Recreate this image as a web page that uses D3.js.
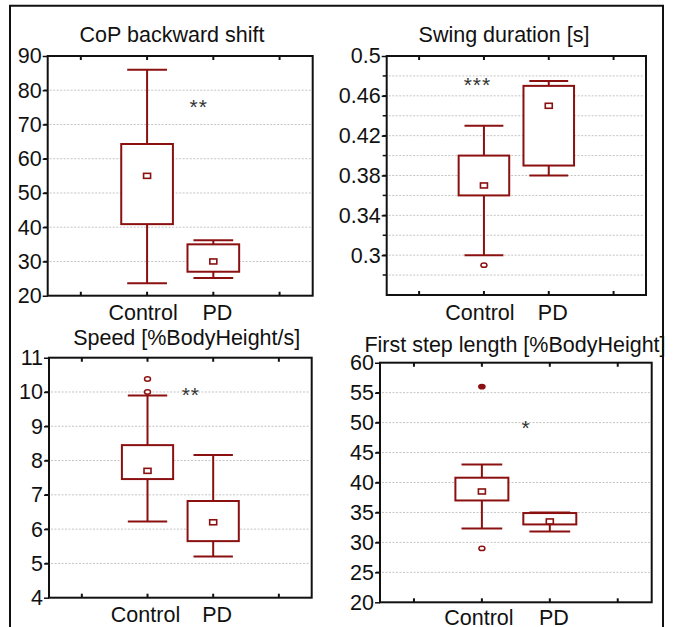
<!DOCTYPE html>
<html>
<head>
<meta charset="utf-8">
<script src="https://cdn.jsdelivr.net/npm/d3@7"></script>
<style>
    body { margin: 0; background: #fff; }
    svg { display: block; }
    text { font-family: "Liberation Sans", Arial, sans-serif; }
</style>
</head>
<body>
<div id="chart"></div>
<script>
// categories on the x axis (positions 1 and 2)
var categories = ['Control', 'PD'];

// box stats per group: [whisker low, q1, median, q3, whisker high]
var copControl = [23.6, 40.9, 55, 64.3, 86];
var copPD = [25.2, 27, 30, 35, 36.2];
var swingControl = [0.30, 0.36, 0.37, 0.40, 0.43];
var swingPD = [0.38, 0.39, 0.45, 0.47, 0.475];
var speedControl = [6.22, 7.46, 7.7, 8.45, 9.9];
var speedPD = [5.2, 5.65, 6.2, 6.82, 8.16];
var stepControl = [32.3, 37, 38.5, 40.8, 43];
var stepPD = [31.8, 33, 33.5, 34.9, 35];

// outliers [category index, value]
var swingOutliers = [[0, 0.29]];
var speedOutliers = [[0, 10.0], [0, 10.38]];
var stepOutliers = [[0, 29]];
var stepExtremes = [[0, 56]];

// significance marks [x position, value, label]
var copStars = [1.78, 76.6, '**'];
var swingStars = [0.9, 0.476, '***'];
var speedStars = [1.66, 10.05, '**'];
var stepStars = [1.65, 50, '*'];

// tick labels and grid lines
var copTicks = [20, 30, 40, 50, 60, 70, 80, 90];
var copGrid = [30, 40, 50, 60, 70, 80];
var swingTicks = [0.3, 0.34, 0.38, 0.42, 0.46, 0.5];
var swingGrid = [0.28, 0.3, 0.32, 0.34, 0.36, 0.38, 0.4, 0.42, 0.44, 0.46, 0.48];
var speedTicks = [4, 5, 6, 7, 8, 9, 10, 11];
var speedGrid = [5, 6, 7, 8, 9, 10];
var stepTicks = [20, 25, 30, 35, 40, 45, 50, 55, 60];
var stepGrid = [25, 30, 35, 40, 45, 50, 55];

var titles = ['CoP backward shift', 'Swing duration [s]', 'Speed [%BodyHeight/s]', 'First step length [%BodyHeight]'];

var DARK_RED = '#8b1010';
var FONT = '21.5px';
var width = 673, height = 627;

var svg = d3.select('#chart').append('svg')
    .attr('width', width)
    .attr('height', height);
var defs = svg.append('defs');

function drawPanel(p) {
    var clipId = 'clip' + p.id;
    defs.append('clipPath').attr('id', clipId)
        .append('rect')
        .attr('x', 0).attr('y', p.clipTop)
        .attr('width', width).attr('height', p.clipBottom - p.clipTop);

    var g = svg.append('g').attr('clip-path', 'url(#' + clipId + ')');

    var x = d3.scaleLinear().domain([-0.5, 3.5]).range([p.left, p.right]);
    var y = d3.scaleLinear().domain(p.domain).range([p.bottom, p.top]);

    // grid lines
    g.append('g').selectAll('line')
        .data(p.grid)
        .enter()
        .append('line')
        .attr('x1', p.left + 2)
        .attr('x2', p.right - 2)
        .attr('y1', function(d) { return y(d); })
        .attr('y2', function(d) { return y(d); })
        .attr('stroke', '#c4c4c4')
        .attr('stroke-width', 1)
        .attr('stroke-dasharray', '2,1.5');

    // y axis labels + outward ticks
    var yAxis = d3.axisLeft(y)
        .tickValues(p.ticks)
        .tickSize(5)
        .tickPadding(1)
        .tickFormat(p.format);
    var ya = g.append('g')
        .attr('transform', 'translate(' + p.left + ',0)')
        .call(yAxis);
    ya.select('.domain').remove();
    ya.selectAll('line').attr('stroke', '#111').attr('stroke-width', 1.5);
    ya.selectAll('text')
        .attr('font-size', FONT)
        .attr('fill', '#111')
        .style('font-family', '"Liberation Sans", Arial, sans-serif');

    // minor ticks at grid values
    g.append('g').selectAll('line')
        .data(p.grid)
        .enter()
        .append('line')
        .attr('x1', p.left - 4)
        .attr('x2', p.left)
        .attr('y1', function(d) { return y(d); })
        .attr('y2', function(d) { return y(d); })
        .attr('stroke', '#111')
        .attr('stroke-width', 1.5);

    // x ticks, inward on top and bottom
    var xTicks = [0, 1, 2, 3];
    g.append('g').selectAll('line')
        .data(xTicks)
        .enter()
        .append('line')
        .attr('x1', function(d) { return x(d); })
        .attr('x2', function(d) { return x(d); })
        .attr('y1', p.bottom)
        .attr('y2', p.bottom - 4)
        .attr('stroke', '#111')
        .attr('stroke-width', 2);
    g.append('g').selectAll('line')
        .data(xTicks)
        .enter()
        .append('line')
        .attr('x1', function(d) { return x(d); })
        .attr('x2', function(d) { return x(d); })
        .attr('y1', p.top)
        .attr('y2', p.top + 4)
        .attr('stroke', '#111')
        .attr('stroke-width', 2);

    // category labels
    g.append('g').selectAll('text')
        .data(categories)
        .enter()
        .append('text')
        .attr('x', function(d, i) { return x(i + 1) + p.labelShift[i]; })
        .attr('y', p.labelY)
        .attr('text-anchor', 'middle')
        .attr('font-size', FONT)
        .attr('fill', '#111')
        .text(function(d) { return d; });

    // title
    g.append('text')
        .attr('x', p.titleX)
        .attr('y', p.titleY)
        .attr('text-anchor', 'middle')
        .attr('font-size', FONT)
        .attr('fill', '#111')
        .text(p.title);

    // boxes
    var boxHalf = 0.39, capHalf = 0.3;
    var boxes = g.append('g')
        .selectAll('g')
        .data(p.boxes)
        .enter()
        .append('g')
        .attr('stroke', DARK_RED)
        .attr('stroke-width', 2)
        .attr('fill', 'none');

    boxes.append('line')
        .attr('x1', function(d, i) { return x(i + 1); })
        .attr('x2', function(d, i) { return x(i + 1); })
        .attr('y1', function(d) { return y(d[4]); })
        .attr('y2', function(d) { return y(d[3]); });
    boxes.append('line')
        .attr('x1', function(d, i) { return x(i + 1); })
        .attr('x2', function(d, i) { return x(i + 1); })
        .attr('y1', function(d) { return y(d[1]); })
        .attr('y2', function(d) { return y(d[0]); });
    boxes.append('line')
        .attr('x1', function(d, i) { return x(i + 1 - capHalf); })
        .attr('x2', function(d, i) { return x(i + 1 + capHalf); })
        .attr('y1', function(d) { return y(d[4]); })
        .attr('y2', function(d) { return y(d[4]); });
    boxes.append('line')
        .attr('x1', function(d, i) { return x(i + 1 - capHalf); })
        .attr('x2', function(d, i) { return x(i + 1 + capHalf); })
        .attr('y1', function(d) { return y(d[0]); })
        .attr('y2', function(d) { return y(d[0]); });
    boxes.append('rect')
        .attr('x', function(d, i) { return x(i + 1 - boxHalf); })
        .attr('width', function(d, i) { return x(i + 1 + boxHalf) - x(i + 1 - boxHalf); })
        .attr('y', function(d) { return y(d[3]); })
        .attr('height', function(d) { return y(d[1]) - y(d[3]); })
        .attr('fill', '#fff');
    boxes.append('rect')
        .attr('x', function(d, i) { return x(i + 1) - 3.5; })
        .attr('y', function(d) { return y(d[2]) - 2.5; })
        .attr('width', 7)
        .attr('height', 5)
        .attr('fill', '#fff')
        .attr('stroke-width', 1.6);

    // outliers
    g.append('g').selectAll('ellipse')
        .data(p.outliers)
        .enter()
        .append('ellipse')
        .attr('cx', function(d) { return x(d[0] + 1); })
        .attr('cy', function(d) { return y(d[1]); })
        .attr('rx', 3)
        .attr('ry', 2.2)
        .attr('fill', '#fff')
        .attr('stroke', DARK_RED)
        .attr('stroke-width', 1.5);
    g.append('g').selectAll('ellipse')
        .data(p.extremes)
        .enter()
        .append('ellipse')
        .attr('cx', function(d) { return x(d[0] + 1); })
        .attr('cy', function(d) { return y(d[1]); })
        .attr('rx', 3.8)
        .attr('ry', 2.8)
        .attr('fill', DARK_RED);

    // significance stars
    g.append('text')
        .attr('x', x(p.stars[0]))
        .attr('y', y(p.stars[1]) + 12)
        .attr('text-anchor', 'middle')
        .attr('font-size', '21px')
        .attr('letter-spacing', '1px')
        .attr('fill', '#333')
        .text(p.stars[2]);

    // plot frame
    g.append('rect')
        .attr('x', p.left)
        .attr('y', p.top)
        .attr('width', p.right - p.left)
        .attr('height', p.bottom - p.top)
        .attr('fill', 'none')
        .attr('stroke', '#111')
        .attr('stroke-width', 2);
}

var fmtInt = d3.format('d');
var fmtSwing = function(d) { return String(+d.toFixed(2)); };

drawPanel({
    id: 1, title: titles[0], domain: [20, 90], ticks: copTicks, grid: copGrid, format: fmtInt,
    boxes: [copControl, copPD], outliers: [], extremes: [], stars: copStars,
    left: 47.7, right: 312.7, top: 56, bottom: 295.7,
    titleX: 172, titleY: 41.5, labelY: 319.5, labelShift: [-4, 4],
    clipTop: 0, clipBottom: 320.5
});
drawPanel({
    id: 2, title: titles[1], domain: [0.26, 0.5], ticks: swingTicks, grid: swingGrid, format: fmtSwing,
    boxes: [swingControl, swingPD], outliers: swingOutliers, extremes: [], stars: swingStars,
    left: 386.7, right: 646, top: 56, bottom: 295,
    titleX: 504, titleY: 41.5, labelY: 320, labelShift: [-4, 4],
    clipTop: 0, clipBottom: 320.5
});
drawPanel({
    id: 3, title: titles[2], domain: [4, 11], ticks: speedTicks, grid: speedGrid, format: fmtInt,
    boxes: [speedControl, speedPD], outliers: speedOutliers, extremes: [], stars: speedStars,
    left: 49, right: 311.7, top: 357.7, bottom: 597.7,
    titleX: 186.7, titleY: 345, labelY: 622, labelShift: [-2, 4],
    clipTop: 320.5, clipBottom: 627
});
drawPanel({
    id: 4, title: titles[3], domain: [20, 60], ticks: stepTicks, grid: stepGrid, format: fmtInt,
    boxes: [stepControl, stepPD], outliers: stepOutliers, extremes: stepExtremes, stars: stepStars,
    left: 380, right: 651.7, top: 362.7, bottom: 602.3,
    titleX: 515, titleY: 351.5, labelY: 625, labelShift: [-3, 4],
    clipTop: 320.5, clipBottom: 627
});

// outer frame (left, top, right)
svg.append('path')
    .attr('d', 'M10,640 V5.7 H663 V640')
    .attr('fill', 'none')
    .attr('stroke', '#111')
    .attr('stroke-width', 2);
</script>
</body>
</html>
